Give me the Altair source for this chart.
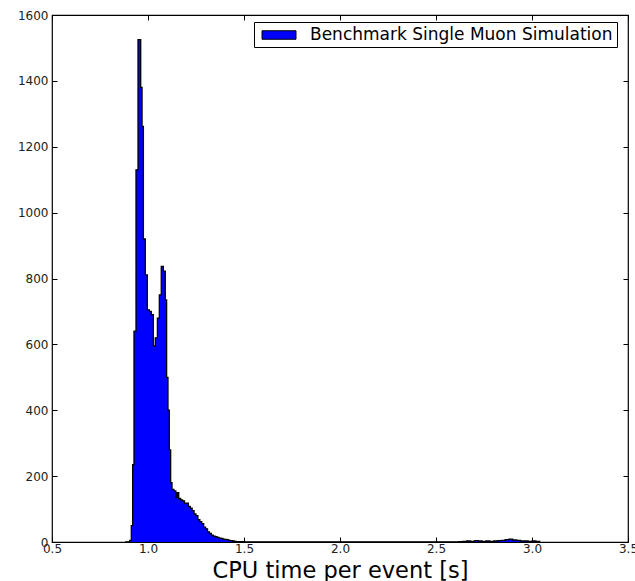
import altair as alt
import pandas as pd

SERIES = "Benchmark Single Muon Simulation"

# left edges of histogram bins (seconds)
bin_left = [
    0.880, 0.905, 0.913, 0.920, 0.927, 0.9375, 0.948, 0.962, 0.969, 0.976,
    0.986, 0.9965, 1.007, 1.017, 1.028, 1.038, 1.049, 1.059, 1.069, 1.080,
    1.090, 1.097, 1.104, 1.111, 1.118, 1.125, 1.135, 1.145, 1.152, 1.160,
    1.170, 1.180, 1.190, 1.200, 1.210, 1.220, 1.230, 1.240, 1.250, 1.260,
    1.270, 1.280, 1.290, 1.300, 1.310, 1.320, 1.330, 1.340, 1.350, 1.360,
    1.370, 1.380, 1.390, 1.400, 1.410, 1.420, 1.430, 1.440, 1.450, 1.460,
    1.480, 1.500,
    2.620, 2.640, 2.660, 2.680, 2.700, 2.720, 2.740, 2.760, 2.780, 2.800,
    2.820, 2.840, 2.860, 2.880, 2.900, 2.920, 2.940, 2.960, 2.980, 3.000,
    3.020, 3.040,
]
# counts per bin
counts = [
    0, 5, 50, 235, 640, 1130, 1525, 1380, 1262, 920,
    811, 705, 700, 690, 595, 620, 680, 750, 837, 822,
    735, 500, 400, 280, 180, 160, 155, 135, 150, 132,
    128, 125, 118, 118, 108, 103, 95, 85, 80, 68,
    62, 56, 45, 40, 31, 26, 21, 18, 16, 14,
    12, 11, 9, 8, 7, 5, 4, 3, 2, 1,
    1, 0,
    1, 2, 3, 2, 4, 3, 2, 3, 2, 3,
    4, 5, 7, 9, 6, 5, 3, 3, 2, 3,
    2, 0,
]

x_ticks = [0.5, 1.0, 1.5, 2.0, 2.5, 3.0, 3.5]
y_ticks = [0, 200, 400, 600, 800, 1000, 1200, 1400, 1600]

df = pd.DataFrame({"t": bin_left, "n": counts, "series": SERIES})

FONT = "DejaVu Sans"
x_scale = alt.Scale(domain=[0.5, 3.5], nice=False, zero=False)
y_scale = alt.Scale(domain=[0, 1600], nice=False)

tick_common = dict(
    tickSize=5, offset=-5, domain=False, grid=False,
    tickColor="black", tickWidth=1,
    labelFont=FONT, labelFontSize=12, labelColor="#222",
)

area = alt.Chart(df).mark_area(interpolate="step-after", opacity=1).encode(
    x=alt.X("t:Q", scale=x_scale,
            axis=alt.Axis(orient="bottom", values=x_ticks, format=".1f",
                          labelPadding=1, title="CPU time per event [s]",
                          titleFont=FONT, titleFontSize=22.5, titleFontWeight="normal",
                          titleColor="black", titlePadding=5,
                          labelOverlap=False, labelFlush=False, **tick_common)),
    y=alt.Y("n:Q", scale=y_scale,
            axis=alt.Axis(orient="left", values=y_ticks, format="d",
                          labelPadding=4, title=None, labelOverlap=False,
                          labelFlush=False, **tick_common)),
    color=alt.Color("series:N",
                    scale=alt.Scale(domain=[SERIES], range=["#0000ff"]),
                    legend=alt.Legend(
                        title=None, orient="none", legendX=202, legendY=7,
                        fillColor="white", strokeColor="black", padding=4,
                        cornerRadius=0,
                        symbolType="M-2,-0.5H2V0.5H-2Z", symbolSize=289,
                        symbolStrokeColor="black", symbolStrokeWidth=1,
                        symbolOpacity=1, symbolOffset=12,
                        labelFont=FONT, labelFontSize=17, labelColor="black",
                        labelOffset=22, labelLimit=400)),
)

line = alt.Chart(df).mark_line(interpolate="step-after", color="black",
                               strokeWidth=1.3).encode(
    x=alt.X("t:Q", scale=x_scale,
            axis=alt.Axis(orient="top", values=x_ticks, labels=False,
                          title=None, **tick_common)),
    y=alt.Y("n:Q", scale=y_scale,
            axis=alt.Axis(orient="right", values=y_ticks, labels=False,
                          title=None, **tick_common)),
)

chart = alt.layer(area, line).resolve_axis(
    x="independent", y="independent"
).properties(
    width=576, height=527,
    padding={"left": 52, "top": 15, "right": 7, "bottom": 39},
    autosize=alt.AutoSizeParams(type="none"),
    background="white",
).configure_view(stroke="black", strokeWidth=1.2)

chart.save("out.html", embed_options={"renderer": "svg", "actions": False})
